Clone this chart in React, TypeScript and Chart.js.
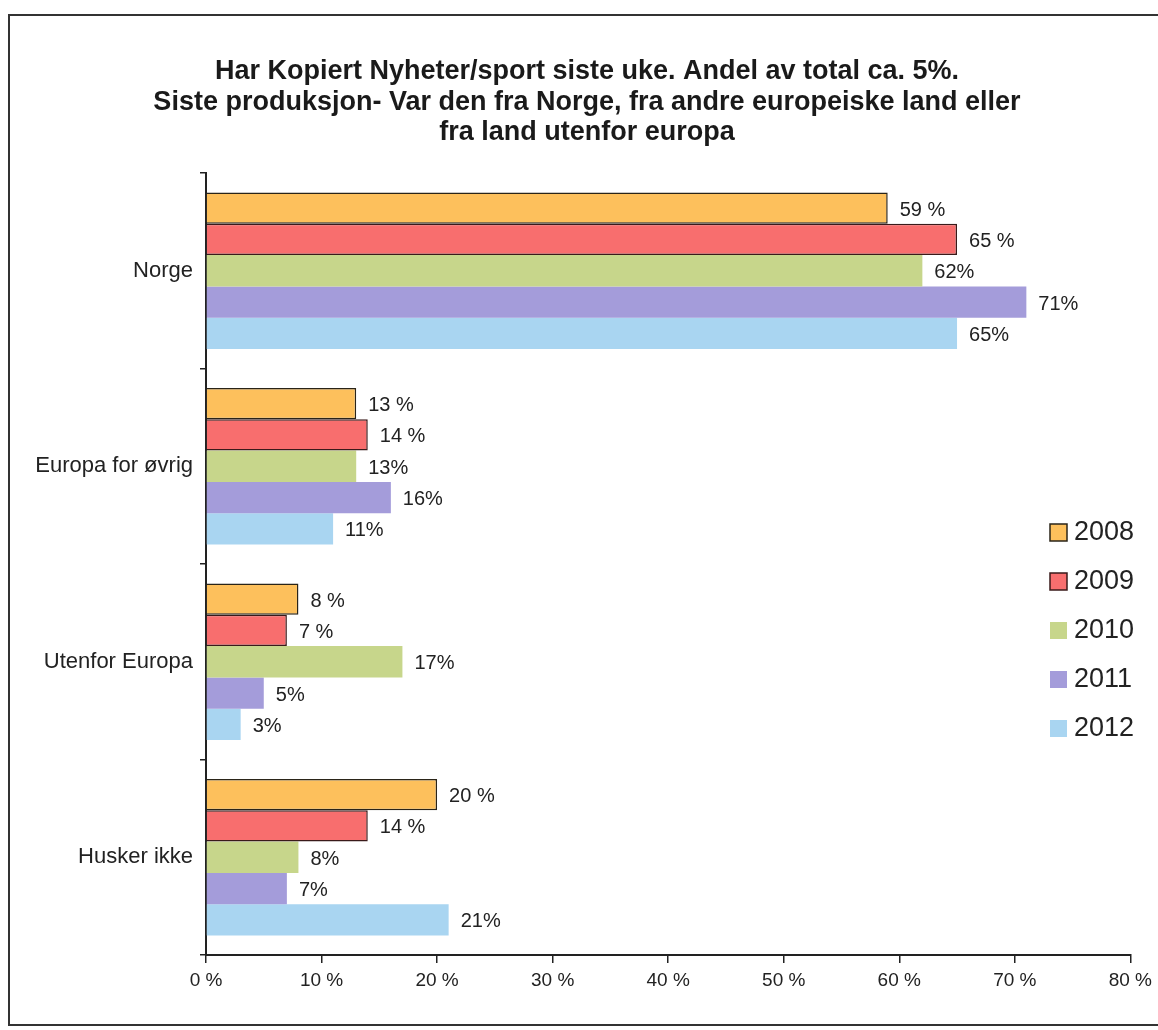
import React, { useEffect, useRef } from "react";
import { Chart, registerables } from "chart.js";

Chart.register(...registerables);

const categories = ["Norge", "Europa for øvrig", "Utenfor Europa", "Husker ikke"];
const years = ["2008", "2009", "2010", "2011", "2012"];
const values2008 = [59, 13, 8, 20];
const values2009 = [65, 14, 7, 14];
const values2010 = [62, 13, 17, 8];
const values2011 = [71, 16, 5, 7];
const values2012 = [65, 11, 3, 21];
const labelSuffix = [" %", " %", "%", "%", "%"];
const xTicks = [0, 10, 20, 30, 40, 50, 60, 70, 80];
const titleLines = [
  "Har Kopiert Nyheter/sport siste uke. Andel av total ca. 5%.",
  "Siste produksjon- Var den fra Norge, fra andre europeiske land eller",
  "fra land utenfor europa",
];

const fills = ["#FDC05C", "#F86E6E", "#C7D68B", "#A49CDA", "#A9D5F1"];
const borders = ["#2a2418", "#3a1a1a", "#C7D68B", "#A49CDA", "#A9D5F1"];
const borderWidths = [1.5, 1.5, 0, 0, 0];

const FONT = "'Liberation Sans', Arial, sans-serif";

const titleDraw = {
  id: "titleDraw",
  afterDraw(chart: any) {
    const ctx = chart.ctx;
    ctx.save();
    ctx.font = `bold 27px ${FONT}`;
    ctx.fillStyle = "#1a1a1a";
    ctx.textAlign = "center";
    ctx.textBaseline = "middle";
    titleLines.forEach((line, i) => {
      ctx.fillText(line, 587, 72 + i * 30.5);
    });
    ctx.restore();
  },
};

const valueLabels = {
  id: "valueLabels",
  afterDatasetsDraw(chart: any) {
    const ctx = chart.ctx;
    ctx.save();
    ctx.font = `20px ${FONT}`;
    ctx.fillStyle = "#222";
    ctx.textBaseline = "middle";
    ctx.textAlign = "left";
    chart.data.datasets.forEach((ds: any, i: number) => {
      const meta = chart.getDatasetMeta(i);
      meta.data.forEach((bar: any, j: number) => {
        ctx.fillText(`${ds.data[j]}${labelSuffix[i]}`, bar.x + 12, bar.y + 2);
      });
    });
    ctx.restore();
  },
};

const sideLegend = {
  id: "sideLegend",
  afterDraw(chart: any) {
    const ctx = chart.ctx;
    ctx.save();
    ctx.font = `27px ${FONT}`;
    ctx.textBaseline = "middle";
    ctx.textAlign = "left";
    const x0 = 1050;
    const y0 = 532;
    const gap = 49;
    chart.data.datasets.forEach((ds: any, i: number) => {
      const y = y0 + i * gap;
      ctx.fillStyle = ds.backgroundColor;
      ctx.fillRect(x0, y - 8, 17, 17);
      if (ds.borderWidth > 0) {
        ctx.strokeStyle = ds.borderColor;
        ctx.lineWidth = 1.5;
        ctx.strokeRect(x0, y - 8, 17, 17);
      }
      ctx.fillStyle = "#222";
      ctx.fillText(ds.label, x0 + 24, y + 1);
    });
    ctx.restore();
  },
};

export default function App() {
  const ref = useRef<HTMLCanvasElement>(null);
  useEffect(() => {
    const series = [values2008, values2009, values2010, values2011, values2012];
    const chart = new Chart(ref.current!, {
      type: "bar",
      data: {
        labels: categories,
        datasets: years.map((y, i) => ({
          label: y,
          data: series[i],
          backgroundColor: fills[i],
          borderColor: borders[i],
          borderWidth: borderWidths[i],
          categoryPercentage: 0.8,
          barPercentage: 1.0,
        })),
      },
      options: {
        indexAxis: "y",
        responsive: false,
        animation: false,
        layout: { padding: { left: 16, right: 27, top: 173, bottom: 0 } },
        plugins: {
          legend: { display: false },
          tooltip: { enabled: false },
          title: { display: false },
        },
        scales: {
          x: {
            min: 0,
            max: 80,
            afterFit(scale: any) {
              scale.height = 75;
            },
            afterBuildTicks(scale: any) {
              scale.ticks = xTicks.map((v) => ({ value: v }));
            },
            ticks: {
              callback: (v: any) => `${v} %`,
              color: "#222",
              font: { family: FONT, size: 19 },
              padding: 6,
              maxRotation: 0,
            },
            grid: { drawOnChartArea: false, tickLength: 8, color: "#222", lineWidth: 1.5 },
            border: { color: "#222", width: 2 },
          },
          y: {
            afterFit(scale: any) {
              scale.width = 190;
            },
            ticks: {
              color: "#222",
              font: { family: FONT, size: 22 },
              padding: 7,
            },
            grid: { drawOnChartArea: false, tickLength: 6, color: "#222", lineWidth: 1.5, offset: true },
            border: { color: "#222", width: 2 },
          },
        },
      },
      plugins: [valueLabels, sideLegend, titleDraw],
    });
    return () => chart.destroy();
  }, []);

  return (
    <div style={{ position: "absolute", left: 0, top: 0, width: 1158, height: 1030, overflow: "hidden", background: "#fff" }}>
      <canvas ref={ref} width={1158} height={1030} style={{ position: "absolute", left: 0, top: 0 }} />
      <div
        style={{
          position: "absolute",
          left: 8,
          top: 14,
          width: 1200,
          height: 1012,
          border: "2px solid #333",
          boxSizing: "border-box",
          pointerEvents: "none",
        }}
      />
    </div>
  );
}
